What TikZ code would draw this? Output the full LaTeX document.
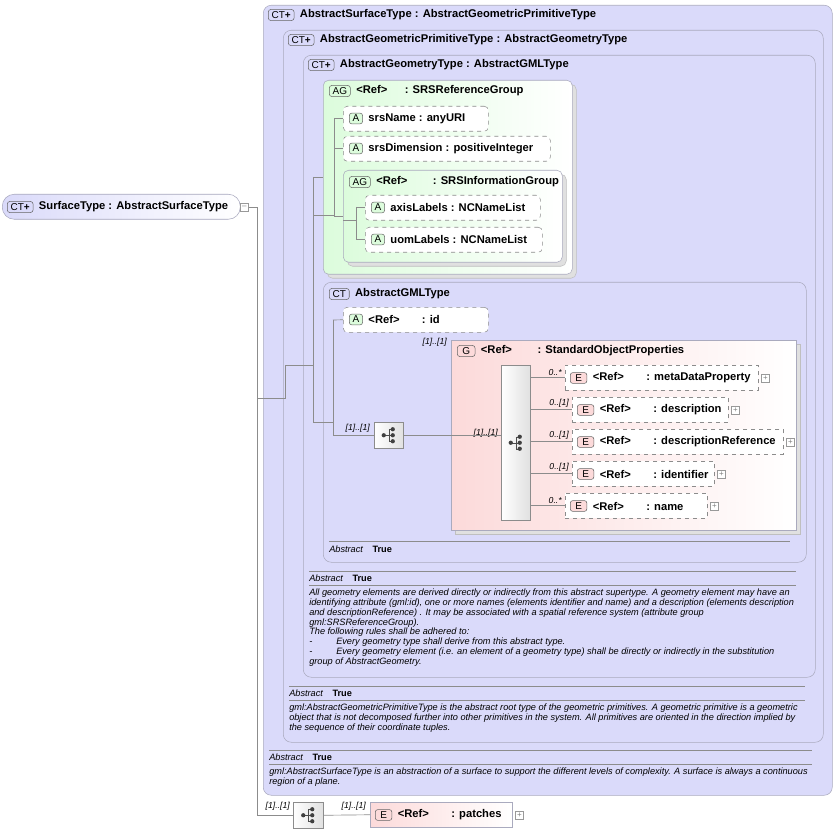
\documentclass[tikz,border=0pt]{standalone}
\usepackage{fontspec}
\setmainfont{Liberation Sans}
\usetikzlibrary{positioning,calc}
\definecolor{ctfill}{RGB}{218,218,250}
\definecolor{ctline}{RGB}{170,170,190}
\definecolor{agfill}{RGB}{220,252,220}
\definecolor{efill}{RGB}{252,218,218}
\definecolor{lnk}{RGB}{140,140,140}
\tikzset{
  wh/.style 2 args={minimum width=#1*0.75pt,minimum height=#2*0.75pt,inner sep=0pt,anchor=north west},
  ctbox/.style={draw=ctline,rounded corners=6pt,fill=ctfill},
  agbox/.style={draw=ctline,rounded corners=4pt,left color=agfill,right color=white},
  shadow/.style={draw=black!25,fill=black!12,rounded corners=4pt},
  abox/.style={draw=lnk,dashed,rounded corners=3pt,fill=white},
  ebox/.style={draw=lnk,dashed,fill=white},
  gbox/.style={draw=ctline,left color=efill,right color=white},
  seqbox/.style={draw=lnk,left color=white,right color=black!12},
  badge/.style={draw=black!60,rounded corners=2pt,font=\fontsize{7.5}{8}\selectfont,inner xsep=2.5pt,inner ysep=1.5pt,anchor=west,fill=#1},
  ttl/.style={font=\fontsize{8.4}{10}\selectfont\bfseries,anchor=west,inner sep=0pt},
  mult/.style={font=\fontsize{6.5}{7}\selectfont\itshape,inner sep=0pt},
  plus/.style={draw=black!40,fill=white,minimum size=6pt,inner sep=0pt,font=\fontsize{6}{6}\selectfont,text=black!50},
  note/.style={font=\fontsize{6.9}{7.3}\selectfont\itshape,anchor=north west,inner sep=0pt,align=left},
  abst/.style={font=\fontsize{6.9}{8}\selectfont,anchor=west,inner sep=0pt},
  link/.style={draw=lnk,line width=0.5pt}
}
\newcommand{\seqicon}[1]{%
  \draw[black!70] ($(#1)+(-5,0)$) -- ($(#1)+(0,0)$) ($(#1)+(0,-6)$) -- ($(#1)+(0,6)$) -- ($(#1)+(4,6)$) ($(#1)+(0,-6)$) -- ($(#1)+(4,-6)$) ($(#1)+(0,0)$) -- ($(#1)+(4,0)$);
  \foreach \dy in {-6,0,6} \fill[black!75] ($(#1)+(4,\dy)$) circle (1.6pt);
  \fill[black!75] ($(#1)+(-5,0)$) circle (1.6pt);}
\begin{document}
\begin{tikzpicture}[x=0.75pt,y=-0.75pt]
\useasboundingbox (0,0) rectangle (836,831);
% containers
\node[ctbox,wh={569}{790}] (surf) at (263,5) {};
\node[badge=ctfill] (bsurf) at (268,15) {CT\textbf{+}};
\node[ttl,right=4pt of bsurf] {AbstractSurfaceType : AbstractGeometricPrimitiveType};
\node[ctbox,wh={540}{712}] (prim) at (283,30) {};
\node[badge=ctfill] (bprim) at (288,40) {CT\textbf{+}};
\node[ttl,right=4pt of bprim] {AbstractGeometricPrimitiveType : AbstractGeometryType};
\node[ctbox,wh={512}{622}] (geom) at (303,55) {};
\node[badge=ctfill] (bgeom) at (308,65) {CT\textbf{+}};
\node[ttl,right=4pt of bgeom] {AbstractGeometryType : AbstractGMLType};
% SRS reference group
\node[shadow,wh={249}{194}] at (327,84) {};
\node[agbox,wh={249}{194}] (srs) at (323,80) {};
\node[badge=agfill] (bsrs) at (329,91) {AG};
\node[ttl,right=4pt of bsrs] {<Ref>\quad\ \ : SRSReferenceGroup};
\node[abox,wh={145}{25}] (sname) at (343,106) {};
\node[badge=agfill] (bsn) at (349,118.5) {A};
\node[ttl,right=4pt of bsn] {srsName : anyURI};
\node[abox,wh={207}{25}] (sdim) at (343,136) {};
\node[badge=agfill] (bsd) at (349,148.5) {A};
\node[ttl,right=4pt of bsd] {srsDimension : positiveInteger};
\node[shadow,wh={219}{92}] at (347,174) {};
\node[agbox,wh={219}{92}] (sinfo) at (343,170) {};
\node[badge=agfill] (bsi) at (349,182) {AG};
\node[ttl,right=4pt of bsi] {<Ref>\qquad\ : SRSInformationGroup};
\node[abox,wh={175}{25}] (axis) at (365,195) {};
\node[badge=agfill] (bax) at (371,207.5) {A};
\node[ttl,right=4pt of bax] {axisLabels : NCNameList};
\node[abox,wh={177}{25}] (uom) at (365,227) {};
\node[badge=agfill] (buo) at (371,239.5) {A};
\node[ttl,right=4pt of buo] {uomLabels : NCNameList};
% AbstractGMLType
\node[ctbox,wh={483}{280}] (gml) at (323,282) {};
\node[badge=ctfill] (bgml) at (329,294) {CT};
\node[ttl,right=4pt of bgml] {AbstractGMLType};
\node[abox,wh={145}{25}] (id) at (343,307) {};
\node[badge=agfill] (bid) at (349,319.5) {A};
\node[ttl,right=4pt of bid] {<Ref>\qquad : id};
\node[shadow,rounded corners=0pt,wh={345}{190}] at (455,344) {};
\node[gbox,wh={345}{190}] (std) at (451,340) {};
\node[badge=efill] (bstd) at (457,351) {\,G\,};
\node[ttl,right=4pt of bstd] {<Ref>\qquad\ : StandardObjectProperties};
\node[seqbox,wh={29}{155}] (seqb) at (501,365) {};
\node[seqbox,wh={29}{26}] (seqs) at (374,422) {};
\seqicon{seqb.center}
\seqicon{seqs.center}
\foreach \nm/\lab/\x/\y/\w/\m in {meta/metaDataProperty/565/365/193/0..*,
    desc/description/572/397/156/0..[1],
    dref/descriptionReference/572/429/211/0..[1],
    ident/identifier/572/461/142/0..[1],
    name/name/565/493/142/0..*}{
  \node[ebox,wh={\w}{25}] (\nm) at (\x,\y) {};
  \node[badge=efill] (b\nm) at (\x+5,\y+13) {\,E\,};
  \node[ttl,right=4pt of b\nm] {<Ref>\qquad : \lab};
  \node[plus,right=2pt of \nm] {+};
  \node[mult,anchor=south east] at (\x-3,\y+11) {\m};
  \draw[link] (seqb.east |- \nm.west) -- (\nm.west);
}
\node[mult,anchor=south east] at (447,347) {[1]..[1]};
\node[mult,anchor=south east] at (370,433) {[1]..[1]};
\node[mult,anchor=south east] at (498,438) {[1]..[1]};
\draw[link] (seqs.east) -- (seqb.west |- seqs.east);
\draw[link] (333,320) -- (id.west);
\draw[link] (333,320) |- (seqs.west);
\draw[lnk,line width=0.4pt] (329,541) -- (790,541);
\node[abst] at (329,549) {\textit{Abstract}\quad\textbf{True}};
% notes
\draw[lnk,line width=0.4pt] (309,571) -- (796,571) (309,585) -- (796,585);
\node[abst] at (309,578) {\textit{Abstract}\quad\textbf{True}};
\node[note] (ngeom) at (309,589) {All geometry elements are derived directly or indirectly from this abstract supertype. A geometry element may have an\\identifying attribute (gml:id), one or more names (elements identifier and name) and a description (elements description\\and descriptionReference) . It may be associated with a spatial reference system (attribute group\\gml:SRSReferenceGroup).\\The following rules shall be adhered to:\\-\hspace{2.6em}Every geometry type shall derive from this abstract type.\\-\hspace{2.6em}Every geometry element (i.e. an element of a geometry type) shall be directly or indirectly in the substitution\\group of AbstractGeometry.};
\draw[lnk,line width=0.4pt] (289,686) -- (805,686) (289,700) -- (805,700);
\node[abst] at (289,693) {\textit{Abstract}\quad\textbf{True}};
\node[note] (nprim) at (289,704) {gml:AbstractGeometricPrimitiveType is the abstract root type of the geometric primitives. A geometric primitive is a geometric\\object that is not decomposed further into other primitives in the system. All primitives are oriented in the direction implied by\\the sequence of their coordinate tuples.};
\draw[lnk,line width=0.4pt] (269,750) -- (812,750) (269,764) -- (812,764);
\node[abst] at (269,757) {\textit{Abstract}\quad\textbf{True}};
\node[note] (nsurf) at (269,768) {gml:AbstractSurfaceType is an abstraction of a surface to support the different levels of complexity. A surface is always a continuous\\region of a plane.};
% root
\node[ctbox,wh={238}{25},rounded corners=9pt,left color=ctfill,right color=white] (root) at (2,194) {};
\node[badge=ctfill] (broot) at (7,207) {CT\textbf{+}};
\node[ttl,right=4pt of broot] {SurfaceType : AbstractSurfaceType};
\node[plus,anchor=west] (rminus) at (240,207) {--};
\node[seqbox,wh={30}{26}] (seqp) at (293,802) {};
\seqicon{seqp.center}
\node[gbox,wh={142}{25}] (patch) at (370,802) {};
\node[badge=efill] (bpatch) at (375,815) {\,E\,};
\node[ttl,right=4pt of bpatch] {<Ref>\qquad : patches};
\node[plus,right=2pt of patch] {+};
\node[mult,anchor=south east] at (290,811) {[1]..[1]};
\node[mult,anchor=south east] at (366,811) {[1]..[1]};
% connectors
\coordinate (j0) at (257,207);
\draw[link] (rminus.east) -- (j0) |- (seqp.west);
\draw[link] (j0 |- 0,398) -- (surf.west |- 0,398);
\draw[link] (263,398) -- (285,398) |- (303,365);
\draw[link] (303,365) -- (313,365);
\draw[link] (313,177) |- (333,422);
\draw[link] (313,177) -- (323,177);
\draw[link] (seqp.east) -- (patch.west);
\draw[link] (334,118) |- (sname.west) (334,118) |- (sdim.west) (334,118) |- (sinfo.west);
\draw[link] (313,215) -- (334,215);
\draw[link] (356,207) |- (axis.west) (356,207) |- (uom.west);
\draw[link] (343,220) -- (356,220);
\end{tikzpicture}
\end{document}
